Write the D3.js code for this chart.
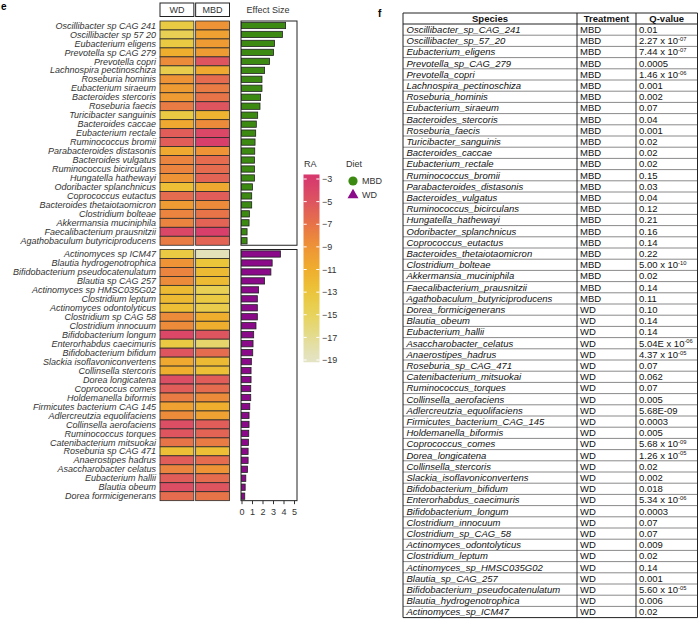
<!DOCTYPE html>
<html><head><meta charset="utf-8">
<script src="https://cdn.jsdelivr.net/npm/d3@7"></script>
<style>body{margin:0;background:#fff}svg{display:block}</style>
</head><body>
<script>
// ---------------- DATA ----------------
const mbdSpecies = ["Oscillibacter sp CAG 241","Oscillibacter sp 57 20","Eubacterium eligens","Prevotella sp CAG 279","Prevotella copri","Lachnospira pectinoschiza","Roseburia hominis","Eubacterium siraeum","Bacteroides stercoris","Roseburia faecis","Turicibacter sanguinis","Bacteroides caccae","Eubacterium rectale","Ruminococcus bromii","Parabacteroides distasonis","Bacteroides vulgatus","Ruminococcus bicirculans","Hungatella hathewayi","Odoribacter splanchnicus","Coprococcus eutactus","Bacteroides thetaiotaomicron","Clostridium bolteae","Akkermansia muciniphila","Faecalibacterium prausnitzii","Agathobaculum butyriciproducens"];
const mbdEffect = [4.2,3.9,3.15,3.05,2.67,2.2,1.95,1.95,1.82,1.76,1.54,1.41,1.35,1.29,1.26,1.23,1.23,1.23,1.04,0.97,0.97,0.75,0.72,0.53,0.53];
const mbdRA_WD  = [-13.5,-14.5,-13.5,-11,-8.5,-14,-9,-9.5,-9.5,-7.5,-13.5,-10.5,-5.5,-5.5,-10.5,-8,-8,-9,-12.5,-6.5,-9.5,-8,-8,-4,-7.5];
const mbdRA_MBD = [-9,-10,-9.5,-9.5,-5,-10.5,-6.5,-7.5,-7,-5,-11.5,-8.5,-4,-3.5,-9,-6.5,-6.5,-6,-10.5,-5.5,-8.5,-7,-6,-3.5,-6];

const wdSpecies = ["Actinomyces sp ICM47","Blautia hydrogenotrophica","Bifidobacterium pseudocatenulatum","Blautia sp CAG 257","Actinomyces sp HMSC035G02","Clostridium leptum","Actinomyces odontolyticus","Clostridium sp CAG 58","Clostridium innocuum","Bifidobacterium longum","Enterorhabdus caecimuris","Bifidobacterium bifidum","Slackia isoflavoniconvertens","Collinsella stercoris","Dorea longicatena","Coprococcus comes","Holdemanella biformis","Firmicutes bacterium CAG 145","Adlercreutzia equolifaciens","Collinsella aerofaciens","Ruminococcus torques","Catenibacterium mitsuokai","Roseburia sp CAG 471","Anaerostipes hadrus","Asaccharobacter celatus","Eubacterium hallii","Blautia obeum","Dorea formicigenerans"];
const wdEffect = [3.71,2.92,2.8,2.2,1.63,1.51,1.51,1.51,1.38,1.16,1.1,1.07,0.94,0.91,0.91,0.88,0.88,0.79,0.72,0.72,0.69,0.66,0.63,0.63,0.57,0.41,0.35,0.31];
const wdRA_WD  = [-13.5,-9,-8,-8.5,-12,-12,-12.5,-8.5,-8.5,-4,-13.5,-5,-10.5,-11,-4.5,-5.5,-7.5,-10,-8.5,-4.5,-5,-7,-12.5,-5.5,-8,-5.5,-4.5,-6.5];
const wdRA_MBD = [-18.5,-13,-12,-12,-14.5,-13.5,-14,-11,-11,-5,-15.5,-6.5,-12,-12.5,-5.5,-6.5,-8.5,-11,-10,-5.5,-6,-7.5,-12.5,-6.5,-9,-6.5,-5,-7];

const effectTicks = [0,1,2,3,4,5];
const raTicks = [-3,-5,-7,-9,-11,-13,-15,-17,-19];
const diets = ["MBD","WD"];

const tableHeader = ["Species","Treatment","Q-value"];
const tableSpecies = ["Oscillibacter_sp_CAG_241","Oscillibacter_sp_57_20","Eubacterium_eligens","Prevotella_sp_CAG_279","Prevotella_copri","Lachnospira_pectinoschiza","Roseburia_hominis","Eubacterium_siraeum","Bacteroides_stercoris","Roseburia_faecis","Turicibacter_sanguinis","Bacteroides_caccae","Eubacterium_rectale","Ruminococcus_bromii","Parabacteroides_distasonis","Bacteroides_vulgatus","Ruminococcus_bicirculans","Hungatella_hathewayi","Odoribacter_splanchnicus","Coprococcus_eutactus","Bacteroides_thetaiotaomicron","Clostridium_bolteae","Akkermansia_muciniphila","Faecalibacterium_prausnitzii","Agathobaculum_butyriciproducens","Dorea_formicigenerans","Blautia_obeum","Eubacterium_hallii","Asaccharobacter_celatus","Anaerostipes_hadrus","Roseburia_sp_CAG_471","Catenibacterium_mitsuokai","Ruminococcus_torques","Collinsella_aerofaciens","Adlercreutzia_equolifaciens","Firmicutes_bacterium_CAG_145","Holdemanella_biformis","Coprococcus_comes","Dorea_longicatena","Collinsella_stercoris","Slackia_isoflavoniconvertens","Bifidobacterium_bifidum","Enterorhabdus_caecimuris","Bifidobacterium_longum","Clostridium_innocuum","Clostridium_sp_CAG_58","Actinomyces_odontolyticus","Clostridium_leptum","Actinomyces_sp_HMSC035G02","Blautia_sp_CAG_257","Bifidobacterium_pseudocatenulatum","Blautia_hydrogenotrophica","Actinomyces_sp_ICM47"];
const tableTreatment = ["MBD","MBD","MBD","MBD","MBD","MBD","MBD","MBD","MBD","MBD","MBD","MBD","MBD","MBD","MBD","MBD","MBD","MBD","MBD","MBD","MBD","MBD","MBD","MBD","MBD","WD","WD","WD","WD","WD","WD","WD","WD","WD","WD","WD","WD","WD","WD","WD","WD","WD","WD","WD","WD","WD","WD","WD","WD","WD","WD","WD","WD"];
const tableQ = ["0.01","2.27 x 10^-07","7.44 x 10^-07","0.0005","1.46 x 10^-06","0.001","0.002","0.07","0.04","0.001","0.02","0.02","0.02","0.15","0.03","0.04","0.12","0.21","0.16","0.14","0.22","5.00 x 10^-10","0.02","0.14","0.11","0.10","0.14","0.14","5.04E x 10^-06","4.37 x 10^-05","0.07","0.062","0.07","0.005","5.68E-09","0.0003","0.005","5.68 x 10^-09","1.26 x 10^-05","0.02","0.002","0.018","5.34 x 10^-06","0.0003","0.07","0.07","0.009","0.02","0.14","0.001","5.60 x 10^-05","0.006","0.02"];

// ---------------- DRAW ----------------
const W = 700, H = 621;
const svg = d3.select("body").append("svg").attr("width", W).attr("height", H)
  .style("font-family", "'Liberation Sans', Arial, sans-serif");
svg.append("rect").attr("width", W).attr("height", H).attr("fill", "#fff");

const colorRA = d3.scaleLinear()
  .domain([-3,-5,-7,-9,-11,-13,-15,-17,-19])
  .range(["#d6396e","#de5560","#e77348","#ee9436","#efae2e","#ebc53a","#e7d35c","#e4dc92","#e4e4c6"])
  .clamp(true);

const GREEN = "#3d8a12", PURPLE = "#8a0a8a", TXT = "#333";

svg.append("text").attr("x", 1).attr("y", 10).attr("font-weight", "bold").attr("font-size", 10).text("e");
svg.append("text").attr("x", 378).attr("y", 17).attr("font-weight", "bold").attr("font-size", 10).text("f");

const colX = d3.scaleBand().domain(["WD","MBD"]).range([160, 229.5]).paddingInner(0.05);

const hdr = svg.append("g");
["WD","MBD"].forEach(c => {
  hdr.append("rect").attr("x", colX(c)).attr("y", 3).attr("width", colX.bandwidth()).attr("height", 13.5)
    .attr("fill", "#fff").attr("stroke", "#222").attr("stroke-width", 1);
  hdr.append("text").attr("x", colX(c) + colX.bandwidth()/2).attr("y", 13).attr("text-anchor", "middle")
    .attr("font-size", 9).attr("fill", TXT).text(c);
});
svg.append("text").attr("x", 268).attr("y", 13).attr("text-anchor", "middle").attr("font-size", 9).attr("fill", TXT).text("Effect Size");

const xEff = d3.scaleLinear().domain([0, 5]).range([241.5, 294]);

function block(species, eff, raWD, raMBD, y0, y1, barColor, isBottom) {
  const y = d3.scaleBand().domain(species).range([y0, y1]);
  const g = svg.append("g");
  g.selectAll("text.lab").data(species).join("text").attr("class", "lab")
    .attr("x", 156).attr("y", d => y(d) + y.bandwidth()/2).attr("dy", "0.35em")
    .attr("text-anchor", "end").attr("font-size", 9).attr("font-style", "italic").attr("fill", TXT).text(d => d);
  const rows = species.map((s, i) => ({s, WD: raWD[i], MBD: raMBD[i], e: eff[i]}));
  ["WD","MBD"].forEach(c => {
    g.selectAll("rect.c" + c).data(rows).join("rect").attr("class", "c" + c)
      .attr("x", colX(c)).attr("y", d => y(d.s)).attr("width", colX.bandwidth()).attr("height", y.bandwidth())
      .attr("fill", d => colorRA(d[c])).attr("stroke", "#2a2a2a").attr("stroke-width", 0.8);
  });
  const bx0 = xEff(0) - 0.5, bx1 = 297;
  g.append("rect").attr("x", bx0).attr("y", y0).attr("width", bx1 - bx0).attr("height", y1 - y0)
    .attr("fill", "none").attr("stroke", "#222").attr("stroke-width", 1);
  const bh = y.bandwidth() * 0.7;
  g.selectAll("rect.bar").data(rows).join("rect").attr("class", "bar")
    .attr("x", xEff(0)).attr("y", d => y(d.s) + (y.bandwidth() - bh)/2)
    .attr("width", d => xEff(d.e) - xEff(0)).attr("height", bh)
    .attr("fill", barColor).attr("stroke", "#222").attr("stroke-width", 0.8);
  if (isBottom) {
    const ax = svg.append("g").attr("transform", `translate(0,${y1})`)
      .call(d3.axisBottom(xEff).tickValues(effectTicks).tickSize(3.5).tickSizeOuter(0).tickFormat(d3.format("d")));
    ax.select(".domain").remove();
    ax.selectAll("line").attr("stroke", "#333");
    ax.selectAll("text").attr("font-size", 9).attr("fill", TXT).attr("font-family", "'Liberation Sans', Arial, sans-serif").attr("dy", "0.9em");
  }
}
block(mbdSpecies, mbdEffect, mbdRA_WD, mbdRA_MBD, 21, 21 + 25*8.97, GREEN, false);
block(wdSpecies, wdEffect, wdRA_WD, wdRA_MBD, 249.5, 249.5 + 28*8.97, PURPLE, true);

// colour bar legend
const cbY = d3.scaleLinear().domain([-3, -19]).range([179, 360]);
const defs = svg.append("defs");
const grad = defs.append("linearGradient").attr("id", "raGrad").attr("x1", 0).attr("y1", 0).attr("x2", 0).attr("y2", 1);
const vTop = -2.6, vBot = -19.2;
d3.range(0, 1.0001, 0.05).forEach(t => {
  grad.append("stop").attr("offset", t).attr("stop-color", colorRA(vTop + (vBot - vTop) * t));
});
svg.append("rect").attr("x", 303.5).attr("y", cbY(vTop)).attr("width", 16).attr("height", cbY(vBot) - cbY(vTop))
  .attr("fill", "url(#raGrad)");
const cbt = svg.append("g");
raTicks.forEach(v => {
  cbt.append("line").attr("x1", 303.5).attr("x2", 306.7).attr("y1", cbY(v)).attr("y2", cbY(v)).attr("stroke", "#fff").attr("stroke-width", 1);
  cbt.append("line").attr("x1", 316.3).attr("x2", 319.5).attr("y1", cbY(v)).attr("y2", cbY(v)).attr("stroke", "#fff").attr("stroke-width", 1);
  cbt.append("text").attr("x", 322).attr("y", cbY(v)).attr("dy", "0.35em").attr("font-size", 9).attr("fill", TXT)
    .text("\u2212" + Math.abs(v));
});
svg.append("text").attr("x", 304).attr("y", 167).attr("font-size", 9).attr("fill", TXT).text("RA");

// Diet legend
svg.append("text").attr("x", 346).attr("y", 167).attr("font-size", 9).attr("fill", TXT).text("Diet");
const legY = d3.scaleBand().domain(diets).range([174, 202]);
diets.forEach(d => {
  const cy = legY(d) + legY.bandwidth()/2;
  if (d === "MBD") {
    svg.append("circle").attr("cx", 353).attr("cy", cy).attr("r", 4.6).attr("fill", GREEN);
  } else {
    svg.append("path").attr("transform", `translate(353,${cy})`)
      .attr("d", d3.symbol(d3.symbolTriangle, 52)()).attr("fill", PURPLE);
  }
  svg.append("text").attr("x", 362).attr("y", cy).attr("dy", "0.35em").attr("font-size", 9).attr("fill", TXT).text(d);
});

// ---------------- TABLE ----------------
const tCols = [403, 577, 636, 697.5];
const tTop = 13, tHeadBot = 24, rowH = 11.2;
const nRows = tableSpecies.length;
const tBot = tHeadBot + nRows * rowH;
const tRowY = d3.scaleBand().domain(d3.range(nRows)).range([tHeadBot, tBot]);
const tg = svg.append("g").attr("font-size", 9.5).attr("fill", "#111");
d3.range(nRows).forEach(i => {
  if (i > 0) tg.append("line").attr("x1", tCols[0]).attr("x2", tCols[3]).attr("y1", tRowY(i)).attr("y2", tRowY(i))
    .attr("stroke", "#8a8a8a").attr("stroke-width", 1);
});
tg.append("line").attr("x1", tCols[0]).attr("x2", tCols[3]).attr("y1", tHeadBot).attr("y2", tHeadBot).attr("stroke", "#222").attr("stroke-width", 1);
tCols.forEach(x => {
  tg.append("line").attr("x1", x).attr("x2", x).attr("y1", tTop).attr("y2", tBot).attr("stroke", "#222").attr("stroke-width", 1);
});
tg.append("line").attr("x1", tCols[0]).attr("x2", tCols[3]).attr("y1", tTop).attr("y2", tTop).attr("stroke", "#222").attr("stroke-width", 1);
tg.append("line").attr("x1", tCols[0]).attr("x2", tCols[3]).attr("y1", tBot).attr("y2", tBot).attr("stroke", "#222").attr("stroke-width", 1);
tableHeader.forEach((h, i) => {
  tg.append("text").attr("x", (tCols[i] + tCols[i+1]) / 2).attr("y", (tTop + tHeadBot)/2).attr("dy", "0.36em")
    .attr("text-anchor", "middle").attr("font-weight", "bold").text(h);
});
tableSpecies.forEach((s, i) => {
  const cy = tRowY(i) + tRowY.bandwidth()/2;
  tg.append("text").attr("x", tCols[0] + 3.5).attr("y", cy).attr("dy", "0.36em").attr("font-style", "italic").text(s);
  tg.append("text").attr("x", tCols[1] + 3).attr("y", cy).attr("dy", "0.36em").text(tableTreatment[i]);
  const q = tableQ[i].split("^");
  const t = tg.append("text").attr("x", tCols[2] + 3).attr("y", cy).attr("dy", "0.36em");
  t.append("tspan").text(q[0]);
  if (q.length > 1) t.append("tspan").attr("font-size", 5.8).attr("dy", "-0.55em").text(q[1]);
});
</script>
</body></html>
